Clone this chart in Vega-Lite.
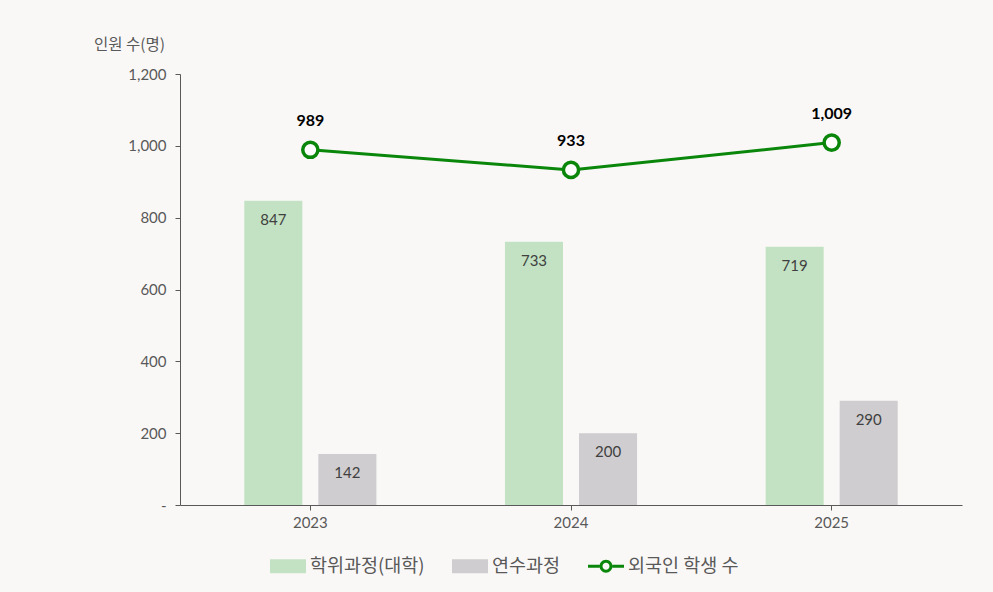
{
  "$schema": "https://vega.github.io/schema/vega-lite/v6.json",
  "width": 782,
  "height": 431,
  "autosize": {"type": "none"},
  "padding": {"left": 180, "top": 74, "right": 31, "bottom": 87},
  "background": "#f9f8f7",
  "config": {"view": {"stroke": null}},
  "data": {"values": [
    {"year": "2023", "series": "학위과정(대학)", "value": 847},
    {"year": "2023", "series": "연수과정", "value": 142},
    {"year": "2023", "series": "외국인 학생 수", "value": 989},
    {"year": "2024", "series": "학위과정(대학)", "value": 733},
    {"year": "2024", "series": "연수과정", "value": 200},
    {"year": "2024", "series": "외국인 학생 수", "value": 933},
    {"year": "2025", "series": "학위과정(대학)", "value": 719},
    {"year": "2025", "series": "연수과정", "value": 290},
    {"year": "2025", "series": "외국인 학생 수", "value": 1009}
  ]},
  "encoding": {
    "x": {
      "field": "year", "type": "ordinal",
      "scale": {"paddingInner": 0, "paddingOuter": 0},
      "axis": {
        "title": null, "labelAngle": 0, "labelFont": "Lato", "labelFontSize": 15,
        "labelColor": "#595959", "domainColor": "#595959", "tickColor": "#595959",
        "tickSize": 5, "labelPadding": 5, "grid": false
      }
    },
    "y": {
      "field": "value", "type": "quantitative",
      "scale": {"domain": [0, 1200]},
      "axis": {
        "values": [0, 200, 400, 600, 800, 1000, 1200],
        "labelExpr": "datum.value == 0 ? '-' : format(datum.value, ',')",
        "labelFont": "Lato", "labelFontSize": 15, "labelColor": "#595959",
        "domainColor": "#595959", "tickColor": "#595959", "tickSize": 5,
        "labelPadding": 9, "grid": false,
        "title": "인원 수(명)", "titleAngle": 0, "titleFont": "Noto Sans CJK KR",
        "titleFontSize": 15.5, "titleFontWeight": "normal", "titleColor": "#595959",
        "titleAlign": "center", "titleBaseline": "middle", "titleX": -51, "titleY": -30
      }
    }
  },
  "layer": [
    {
      "transform": [{"filter": "datum.series != '외국인 학생 수'"}],
      "mark": {"type": "bar"},
      "encoding": {
        "xOffset": {
          "field": "series", "type": "nominal",
          "scale": {"domain": ["학위과정(대학)", "연수과정"], "paddingInner": 0.216, "paddingOuter": 0.868}
        },
        "color": {
          "field": "series", "type": "nominal",
          "scale": {
            "domain": ["학위과정(대학)", "연수과정", "외국인 학생 수"],
            "range": ["#c3e2c3", "#cfcdcf", "#0a870a"]
          },
          "legend": {
            "title": null, "orient": "none", "direction": "horizontal",
            "legendX": 90, "legendY": 474,
            "labelFont": "Noto Sans CJK KR", "labelFontSize": 18.5, "labelColor": "#595959",
            "symbolSize": 1296, "labelOffset": 4, "columnPadding": 27,
            "encode": {
              "symbols": {
                "update": {
                  "shape": {"signal": "datum.value == '외국인 학생 수' ? 'M-1,-0.083H-0.36V0.083H-1Z M0.36,-0.083H1V0.083H0.36Z M0.36,0A0.36,0.36,0,1,1,-0.36,0A0.36,0.36,0,1,1,0.36,0Z M0.193,0A0.193,0.193,0,1,0,-0.193,0A0.193,0.193,0,1,0,0.193,0Z' : 'M-1,-0.39H1V0.39H-1Z'"},
                  "fill": {"signal": "datum.value == '외국인 학생 수' ? '#0a870a' : (datum.value == '연수과정' ? '#cfcdcf' : '#c3e2c3')"},
                  "fillOpacity": {"value": 1},
                  "stroke": {"value": "transparent"},
                  "strokeWidth": {"value": 0},
                  "opacity": {"value": 1}
                }
              }
            }
          }
        }
      }
    },
    {
      "transform": [{"filter": "datum.series != '외국인 학생 수'"}],
      "mark": {"type": "text", "baseline": "middle", "dy": 19, "font": "Lato", "fontSize": 15, "color": "#404040"},
      "encoding": {
        "xOffset": {"field": "series", "type": "nominal"},
        "text": {"field": "value", "type": "quantitative", "format": ","}
      }
    },
    {
      "transform": [{"filter": "datum.series == '외국인 학생 수'"}],
      "mark": {"type": "line", "strokeWidth": 3},
      "encoding": {
        "color": {"field": "series", "type": "nominal"}
      }
    },
    {
      "transform": [{"filter": "datum.series == '외국인 학생 수'"}],
      "mark": {"type": "point", "filled": true, "fill": "#ffffff", "stroke": "#0a870a", "strokeWidth": 3.5, "size": 230, "opacity": 1},
      "encoding": {}
    },
    {
      "transform": [{"filter": "datum.series == '외국인 학생 수'"}],
      "mark": {"type": "text", "baseline": "middle", "dy": -29, "font": "Lato", "fontSize": 16, "fontWeight": "bold", "color": "#000000"},
      "encoding": {
        "text": {"field": "value", "type": "quantitative", "format": ","}
      }
    }
  ]
}
